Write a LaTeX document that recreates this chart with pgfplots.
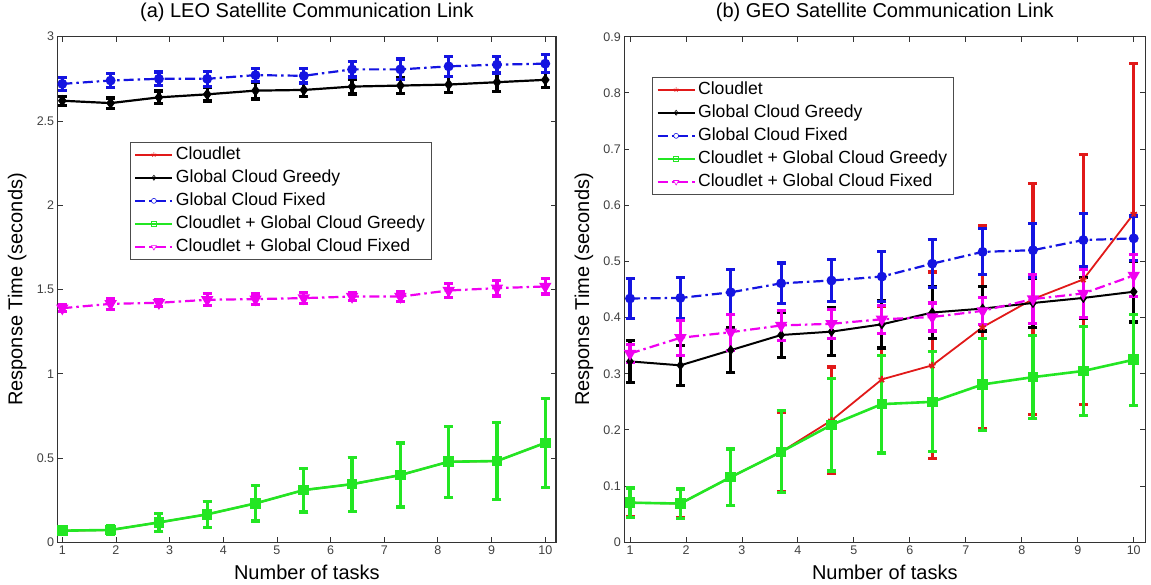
\documentclass[border=0pt]{standalone}
\usepackage{fontspec}
\setmainfont{Liberation Sans}
\usepackage{pgfplots}
\pgfplotsset{compat=1.18}

\definecolor{cred}{RGB}{225,25,25}
\definecolor{cblue}{RGB}{20,20,225}
\definecolor{cgreen}{RGB}{35,230,35}
\definecolor{cmag}{RGB}{240,0,240}

\pgfplotsset{
  resp/.style={
    scale only axis, height=505.6pt, ymin=0,
    tick align=inside, major tick length=5pt,
    axis line style={black!80, line width=1.1pt},
    every tick/.style={black!80, line width=0.9pt},
    tick label style={font=\fontsize{12.5}{14}\selectfont, text=black!75},
    /pgf/number format/assume math mode=true,
    label style={font=\fontsize{20}{24}\selectfont},
    title style={font=\fontsize{20}{24}\selectfont, at={(axis description cs:0.5,1.0364)}, anchor=center},
    xlabel style={at={(axis description cs:0.5,-0.0587)}, anchor=center},
    xlabel={Number of tasks}, ylabel={Response Time (seconds)},
    xtick={1,2,3,4,5,6,7,8,9,10},
    legend cell align=left,
    legend style={draw=black!70, line width=0.8pt, fill=white, anchor=north west,
      inner xsep=4pt, inner ysep=1pt, row sep=0pt,
      font=\fontsize{17.6}{20}\selectfont,
      nodes={inner xsep=2.5pt, inner ysep=3.5pt, text height=12.6pt, text depth=3.5pt}},
    legend image code/.code={\draw[mark repeat=2,mark phase=2,#1] plot coordinates {(0pt,0pt) (18.5pt,0pt) (37pt,0pt)};},
  },
  eb/.style={error bars/.cd, y dir=both, y explicit,
    error bar style={solid, line width=3.2pt},
    error mark options={solid, rotate=90, mark size=4.5pt, line width=3.2pt}},
  dashdot/.style={dash pattern=on 10pt off 4pt on 2.5pt off 4pt},
}

\begin{document}
\begin{tikzpicture}
\path[use as bounding box] (0,0) rectangle (1151pt,584pt);

% ---------- (a) LEO ----------
\begin{axis}[resp,
  at={(57.7pt,41.7pt)}, anchor=south west, width=498.3pt,
  xmin=0.914, xmax=10.2, ymax=3,
  ytick={0,0.5,1,1.5,2,2.5,3},
  title={(a) LEO Satellite Communication Link},
  ylabel style={at={(axis description cs:-0.0813,0.5)}, anchor=center},
  legend style={at={(axis description cs:0.1451,0.7923)}},
]
\addlegendimage{cred, line width=2pt, mark=star, mark size=2.5pt, mark options={line width=0.6pt}}
\addlegendentry{Cloudlet}
\addlegendimage{black, line width=2pt, mark=diamond, mark size=2.5pt, mark options={line width=0.6pt, fill=white}}
\addlegendentry{Global Cloud Greedy}
\addlegendimage{cblue, line width=2pt, dashdot, mark=o, mark size=2.5pt, mark options={solid, line width=0.6pt, fill=white}}
\addlegendentry{Global Cloud Fixed}
\addlegendimage{cgreen, line width=2pt, mark=square, mark size=2.5pt, mark options={line width=0.6pt, fill=white}}
\addlegendentry{Cloudlet + Global Cloud Greedy}
\addlegendimage{cmag, line width=2pt, dashdot, mark=triangle, mark size=3pt, mark options={solid, rotate=180, line width=0.6pt, fill=white}}
\addlegendentry{Cloudlet + Global Cloud Fixed}

% Cloudlet (hidden below the green series)
\addplot[forget plot, cred, line width=1.8pt, mark=star, mark size=3pt, eb] coordinates {
(1,0.069) +- (0,0.025) (1.9,0.073) +- (0,0.025) (2.8,0.118) +- (0,0.055)
(3.7,0.166) +- (0,0.077) (4.6,0.231) +- (0,0.105) (5.5,0.310) +- (0,0.13)
(6.4,0.345) +- (0,0.16) (7.3,0.399) +- (0,0.19) (8.2,0.478) +- (0,0.21)
(9.1,0.482) +- (0,0.23) (10,0.590) +- (0,0.265)
};
% Global Cloud Greedy
\addplot[forget plot, black, line width=2.2pt, mark=diamond*, mark size=4pt, eb] coordinates {
(1,2.620) +- (0,0.027) (1.9,2.606) +- (0,0.03) (2.8,2.640) +- (0,0.038)
(3.7,2.658) +- (0,0.04) (4.6,2.680) +- (0,0.05) (5.5,2.684) +- (0,0.04)
(6.4,2.704) +- (0,0.044) (7.3,2.710) +- (0,0.045) (8.2,2.716) +- (0,0.047)
(9.1,2.730) +- (0,0.053) (10,2.744) +- (0,0.044)
};
% Global Cloud Fixed
\addplot[forget plot, cblue, line width=2.2pt, dashdot, mark=*, mark size=3.8pt, mark options={solid}, eb] coordinates {
(1,2.720) +- (0,0.037) (1.9,2.740) +- (0,0.04) (2.8,2.750) +- (0,0.04)
(3.7,2.750) +- (0,0.045) (4.6,2.772) +- (0,0.04) (5.5,2.768) +- (0,0.043)
(6.4,2.806) +- (0,0.045) (7.3,2.806) +- (0,0.062) (8.2,2.824) +- (0,0.058)
(9.1,2.834) +- (0,0.05) (10,2.840) +- (0,0.052)
};
% Cloudlet + Global Cloud Greedy
\addplot[forget plot, cgreen, line width=2.6pt, mark=square*, mark size=4pt, eb] coordinates {
(1,0.069) +- (0,0.025) (1.9,0.073) +- (0,0.025) (2.8,0.118) +- (0,0.055)
(3.7,0.166) +- (0,0.077) (4.6,0.231) +- (0,0.105) (5.5,0.310) +- (0,0.13)
(6.4,0.345) +- (0,0.16) (7.3,0.399) +- (0,0.19) (8.2,0.478) +- (0,0.21)
(9.1,0.482) +- (0,0.23) (10,0.590) +- (0,0.265)
};
% Cloudlet + Global Cloud Fixed
\addplot[forget plot, cmag, line width=2.2pt, dashdot, mark=triangle*, mark size=5pt, mark options={solid, rotate=180}, eb] coordinates {
(1,1.389) +- (0,0.02) (1.9,1.415) +- (0,0.033) (2.8,1.421) +- (0,0.022)
(3.7,1.439) +- (0,0.036) (4.6,1.443) +- (0,0.03) (5.5,1.449) +- (0,0.032)
(6.4,1.458) +- (0,0.024) (7.3,1.458) +- (0,0.03) (8.2,1.494) +- (0,0.04)
(9.1,1.508) +- (0,0.047) (10,1.518) +- (0,0.045)
};
\end{axis}

% ---------- (b) GEO ----------
\begin{axis}[resp,
  at={(624.3pt,41.7pt)}, anchor=south west, width=521pt,
  xmin=0.898, xmax=10.207, ymax=0.9,
  ytick={0,0.1,0.2,0.3,0.4,0.5,0.6,0.7,0.8,0.9},
  title={(b) GEO Satellite Communication Link},
  ylabel style={at={(axis description cs:-0.0773,0.5)}, anchor=center},
  legend style={at={(axis description cs:0.0536,0.9209)}},
]
\addlegendimage{cred, line width=2pt, mark=star, mark size=2.5pt, mark options={line width=0.6pt}}
\addlegendentry{Cloudlet}
\addlegendimage{black, line width=2pt, mark=diamond, mark size=2.5pt, mark options={line width=0.6pt, fill=white}}
\addlegendentry{Global Cloud Greedy}
\addlegendimage{cblue, line width=2pt, dashdot, mark=o, mark size=2.5pt, mark options={solid, line width=0.6pt, fill=white}}
\addlegendentry{Global Cloud Fixed}
\addlegendimage{cgreen, line width=2pt, mark=square, mark size=2.5pt, mark options={line width=0.6pt, fill=white}}
\addlegendentry{Cloudlet + Global Cloud Greedy}
\addlegendimage{cmag, line width=2pt, dashdot, mark=triangle, mark size=3pt, mark options={solid, rotate=180, line width=0.6pt, fill=white}}
\addlegendentry{Cloudlet + Global Cloud Fixed}

% Cloudlet
\addplot[forget plot, cred, line width=1.8pt, mark=star, mark size=3.5pt, eb] coordinates {
(1,0.0705) +- (0,0.025) (1.9,0.069) +- (0,0.025) (2.8,0.116) +- (0,0.05)
(3.7,0.161) +- (0,0.07) (4.6,0.217) +- (0,0.095) (5.5,0.290) +- (0,0.13)
(6.4,0.315) +- (0,0.166) (7.3,0.383) +- (0,0.18) (8.2,0.433) +- (0,0.205)
(9.1,0.468) +- (0,0.223) (10,0.585) +- (0,0.267)
};
% Global Cloud Greedy
\addplot[forget plot, black, line width=2pt, mark=diamond*, mark size=3.5pt, eb] coordinates {
(1,0.322) +- (0,0.037) (1.9,0.315) +- (0,0.036) (2.8,0.342) +- (0,0.04)
(3.7,0.369) +- (0,0.04) (4.6,0.375) +- (0,0.043) (5.5,0.388) +- (0,0.042)
(6.4,0.409) +- (0,0.046) (7.3,0.416) +- (0,0.04) (8.2,0.426) +- (0,0.043)
(9.1,0.435) +- (0,0.036) (10,0.446) +- (0,0.054)
};
% Global Cloud Fixed
\addplot[forget plot, cblue, line width=2.2pt, dashdot, mark=*, mark size=3.8pt, mark options={solid}, eb] coordinates {
(1,0.434) +- (0,0.035) (1.9,0.435) +- (0,0.037) (2.8,0.445) +- (0,0.04)
(3.7,0.461) +- (0,0.036) (4.6,0.466) +- (0,0.037) (5.5,0.473) +- (0,0.045)
(6.4,0.496) +- (0,0.043) (7.3,0.517) +- (0,0.041) (8.2,0.520) +- (0,0.048)
(9.1,0.538) +- (0,0.047) (10,0.541) +- (0,0.04)
};
% Cloudlet + Global Cloud Greedy
\addplot[forget plot, cgreen, line width=2.6pt, mark=square*, mark size=4pt, eb] coordinates {
(1,0.0705) +- (0,0.026) (1.9,0.069) +- (0,0.026) (2.8,0.116) +- (0,0.05)
(3.7,0.161) +- (0,0.073) (4.6,0.209) +- (0,0.082) (5.5,0.246) +- (0,0.087)
(6.4,0.250) +- (0,0.089) (7.3,0.281) +- (0,0.082) (8.2,0.294) +- (0,0.074)
(9.1,0.305) +- (0,0.079) (10,0.325) +- (0,0.081)
};
% Cloudlet + Global Cloud Fixed
\addplot[forget plot, cmag, line width=2.2pt, dashdot, mark=triangle*, mark size=5pt, mark options={solid, rotate=180}, eb] coordinates {
(1,0.336) +- (0,0.016) (1.9,0.364) +- (0,0.031) (2.8,0.374) +- (0,0.032)
(3.7,0.386) +- (0,0.027) (4.6,0.389) +- (0,0.026) (5.5,0.397) +- (0,0.025)
(6.4,0.401) +- (0,0.025) (7.3,0.412) +- (0,0.024) (8.2,0.433) +- (0,0.043)
(9.1,0.443) +- (0,0.043) (10,0.475) +- (0,0.037)
};
\end{axis}
\end{tikzpicture}
\end{document}
